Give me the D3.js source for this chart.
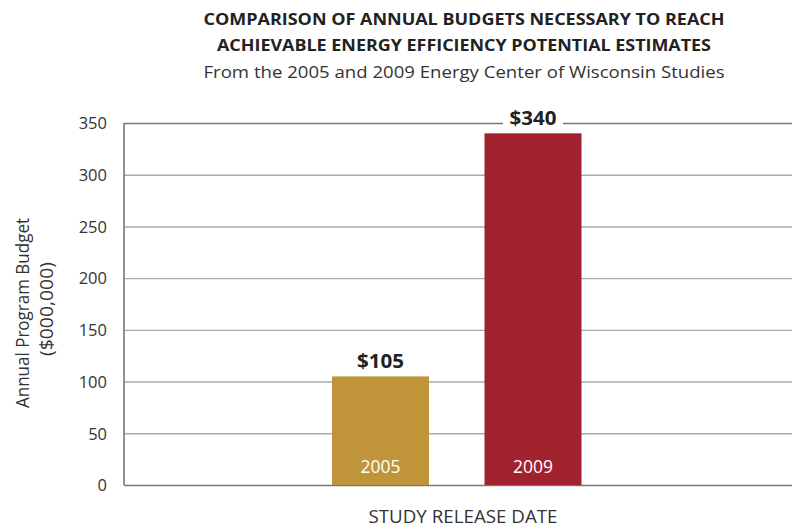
<!DOCTYPE html>
<html><head><meta charset="utf-8">
<script src="https://cdn.jsdelivr.net/npm/d3@7"></script>
<style>body{margin:0;background:#fff}svg{display:block}</style>
</head><body>
<svg id="c" width="792" height="527"></svg>
<script>
const categories = ["2005", "2009"];
const budgets = [105, 340];
const valueLabels = ["$105", "$340"];
const barColors = ["#C0953A", "#A0222F"];
const yTicks = [0, 50, 100, 150, 200, 250, 300, 350];
const titleLines = ["COMPARISON OF ANNUAL BUDGETS NECESSARY TO REACH", "ACHIEVABLE ENERGY EFFICIENCY POTENTIAL ESTIMATES"];
const subtitle = "From the 2005 and 2009 Energy Center of Wisconsin Studies";
const yTitle = ["Annual Program Budget", "($000,000)"];
const xTitle = "STUDY RELEASE DATE";

const svg = d3.select("#c");
const font = "'Open Sans', 'Noto Sans', sans-serif";
const plot = {left: 124, right: 792, top: 123, bottom: 485};

const y = d3.scaleLinear().domain([0, 350]).range([plot.bottom, plot.top]);
const x = d3.scaleBand().domain(categories).range([332, 581.5]).paddingInner(0.364).paddingOuter(0);

// gridlines
const grid = svg.append("g").attr("transform", `translate(${plot.left},0)`)
  .call(d3.axisLeft(y).tickValues(yTicks).tickSize(-(plot.right - plot.left)).tickFormat(""));
grid.select(".domain").remove();
grid.selectAll(".tick line").attr("stroke", d => (d === 0 || d === 350) ? "#777" : "#aaa").attr("stroke-width", d => (d === 0 || d === 350) ? 1.6 : 1.4);

// tick labels
const ax = svg.append("g").attr("transform", `translate(107,0)`)
  .call(d3.axisLeft(y).tickValues(yTicks).tickSize(0).tickPadding(0));
ax.select(".domain").remove();
ax.selectAll("text").attr("font-family", font).attr("font-size", 16.5).attr("fill", "#333").attr("dy", "0.35em");

// left axis line
svg.append("line").attr("x1", plot.left).attr("x2", plot.left).attr("y1", plot.top).attr("y2", plot.bottom)
  .attr("stroke", "#777").attr("stroke-width", 1.6);

// bars
svg.selectAll("rect.bar").data(categories).join("rect").attr("class", "bar")
  .attr("x", d => x(d)).attr("width", x.bandwidth())
  .attr("y", (d, i) => y(budgets[i])).attr("height", (d, i) => y(0) - y(budgets[i]))
  .attr("fill", (d, i) => barColors[i]);

// year labels inside bars
svg.selectAll("text.year").data(categories).join("text").attr("class", "year")
  .attr("x", d => x(d) + x.bandwidth() / 2).attr("y", 473)
  .attr("text-anchor", "middle").attr("font-family", font).attr("font-size", 17.5).attr("fill", "#fff")
  .text(d => d);

// value labels with white background
categories.forEach((c, i) => {
  const cx = x(c) + x.bandwidth() / 2;
  const by = y(budgets[i]) - 8;
  svg.append("rect").attr("x", cx - 30).attr("y", by - 19).attr("width", 60).attr("height", 23).attr("fill", "#fff");
  svg.append("text").attr("x", cx).attr("y", by).attr("text-anchor", "middle")
    .attr("font-family", font).attr("font-size", 20).attr("font-weight", "bold").attr("fill", "#222")
    .attr("textLength", 47).attr("lengthAdjust", "spacingAndGlyphs")
    .text(valueLabels[i]);
});

// titles
const cx = 464;
svg.append("text").attr("x", cx).attr("y", 25).attr("text-anchor", "middle").attr("font-family", font)
  .attr("font-size", 16).attr("font-weight", "bold").attr("fill", "#222")
  .attr("textLength", 521).attr("lengthAdjust", "spacingAndGlyphs").text(titleLines[0]);
svg.append("text").attr("x", cx).attr("y", 51).attr("text-anchor", "middle").attr("font-family", font)
  .attr("font-size", 16).attr("font-weight", "bold").attr("fill", "#222")
  .attr("textLength", 494).attr("lengthAdjust", "spacingAndGlyphs").text(titleLines[1]);
svg.append("text").attr("x", cx).attr("y", 78).attr("text-anchor", "middle").attr("font-family", font)
  .attr("font-size", 16.5).attr("fill", "#333")
  .attr("textLength", 521).attr("lengthAdjust", "spacingAndGlyphs").text(subtitle);

// y title
yTitle.forEach((t, i) => {
  svg.append("text").attr("transform", `translate(${[22, 46][i]},${[313, 309][i]}) rotate(-90)`)
    .attr("text-anchor", "middle").attr("dominant-baseline", "central")
    .attr("font-family", font).attr("font-size", 17.5).attr("fill", "#333")
    .attr("textLength", [190, 94][i]).attr("lengthAdjust", "spacingAndGlyphs").text(t);
});

// x title
svg.append("text").attr("x", 463).attr("y", 523).attr("text-anchor", "middle")
  .attr("font-family", font).attr("font-size", 17.5).attr("fill", "#333")
  .attr("textLength", 189).attr("lengthAdjust", "spacingAndGlyphs").text(xTitle);
</script>
</body></html>
